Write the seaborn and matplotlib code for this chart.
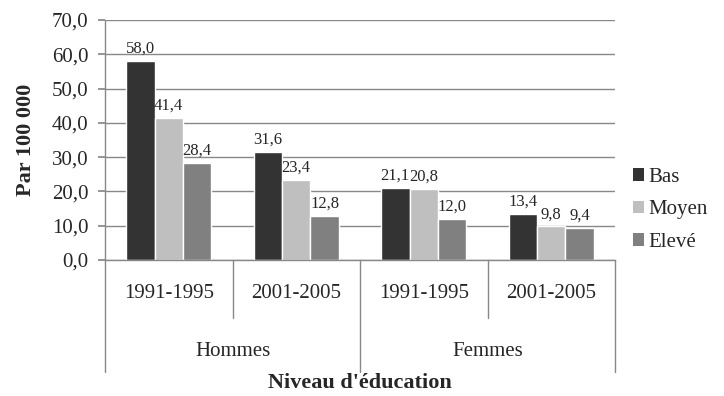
import matplotlib
matplotlib.use("Agg")
import matplotlib.pyplot as plt
from matplotlib.lines import Line2D
from matplotlib.patches import Patch
import seaborn as sns
import pandas as pd

# Data
sexes = ["Hommes", "Femmes"]
periods = ["1991-1995", "2001-2005"]
levels = ["Bas", "Moyen", "Elevé"]
bas = [58.0, 31.6, 21.1, 13.4]
moyen = [41.4, 23.4, 20.8, 9.8]
eleve = [28.4, 12.8, 12.0, 9.4]
colors = ["#333333", "#BFBFBF", "#808080"]
yticks = [0, 10, 20, 30, 40, 50, 60, 70]

groups = [f"{s} {p}" for s in sexes for p in periods]
rows = []
for lvl, vals in zip(levels, [bas, moyen, eleve]):
    for g, v in zip(groups, vals):
        rows.append({"groupe": g, "niveau": lvl, "valeur": v})
df = pd.DataFrame(rows)

sns.set_theme(style="white")
plt.rcParams["font.family"] = ["Liberation Serif", "DejaVu Serif"]

grid_col = "#888888"
fig = plt.figure(figsize=(7.24, 3.96), dpi=100)
ax = fig.add_axes([105 / 724, 1 - 260 / 396, 510 / 724, 240 / 396])

sns.barplot(data=df, x="groupe", y="valeur", hue="niveau", order=groups,
            hue_order=levels, palette=colors, width=0.67, gap=0,
            saturation=1, ax=ax, legend=False, errorbar=None)

# value labels above each bar
for cont in ax.containers:
    labels = [f"{v:.1f}".replace(".", ",") for v in cont.datavalues]
    ax.bar_label(cont, labels=labels, padding=3, fontsize=12)

ax.set_ylim(0, 70)
ax.set_xlim(-0.5, len(groups) - 0.5)
ax.set_yticks(yticks)
ax.set_yticklabels([f"{t:.1f}".replace(".", ",") for t in yticks], fontsize=15)
ax.yaxis.grid(True, color=grid_col, linewidth=1)
ax.set_axisbelow(True)
for s in ["top", "right"]:
    ax.spines[s].set_visible(False)
for s in ["left", "bottom"]:
    ax.spines[s].set_color(grid_col)
    ax.spines[s].set_linewidth(1)
ax.tick_params(axis="y", length=5, color=grid_col, left=True, pad=7)
ax.tick_params(axis="x", length=0)
ax.set_xticks([])
ax.set_xlabel("")
ax.set_ylabel("Par 100 000", fontsize=16, fontweight="bold", labelpad=11)

# multi-level category axis
trans = ax.get_xaxis_transform()
per_y = -33 / 240
sex_y = -92 / 240
inner_bottom = -58 / 240
outer_bottom = -112 / 240
for i, g in enumerate(groups):
    ax.text(i, per_y, periods[i % 2], transform=trans, ha="center",
            va="center", fontsize=15)
for j, s in enumerate(sexes):
    ax.text(2 * j + 0.5, sex_y, s, transform=trans, ha="center",
            va="center", fontsize=15)
for x in [0.5, 2.5]:
    ax.add_line(Line2D([x, x], [0, inner_bottom], transform=trans,
                       color=grid_col, lw=1, clip_on=False))
for x in [-0.5, 1.5, 3.5]:
    ax.add_line(Line2D([x, x], [0, outer_bottom], transform=trans,
                       color=grid_col, lw=1, clip_on=False))
ax.text(1.5, -123 / 240, "Niveau d'éducation", transform=trans,
        ha="center", va="center", fontsize=16, fontweight="bold")

handles = [Patch(facecolor=c, edgecolor="none") for c in colors]
fig.legend(handles, levels, loc="center left",
           bbox_to_anchor=(633 / 724, 1 - 210 / 396), frameon=False,
           fontsize=15, handlelength=0.55, handleheight=0.55,
           handletextpad=0.2, labelspacing=0.65, borderaxespad=0,
           borderpad=0)

fig.savefig("out.png", dpi=100)
